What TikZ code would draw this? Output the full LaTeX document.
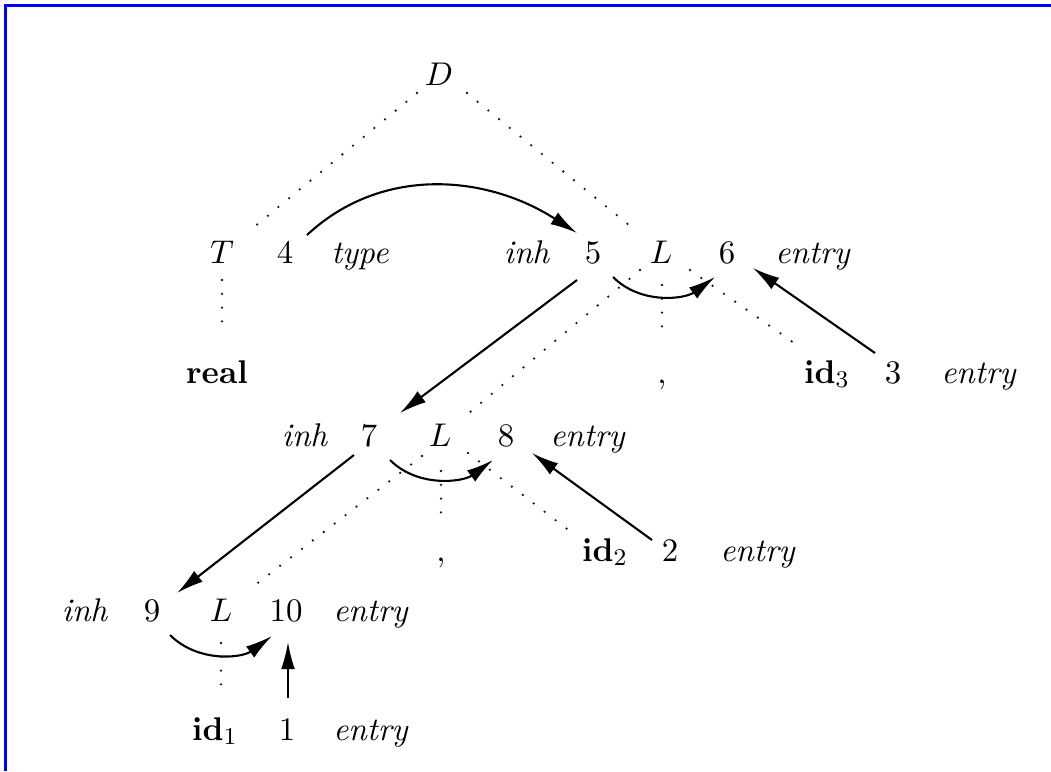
\documentclass[tikz,border=0pt]{standalone}
\usetikzlibrary{arrows.meta}
\begin{document}
\begin{tikzpicture}[x=0.33333pt,y=-0.33333pt,
  lab/.style={anchor=base, inner sep=0pt, font=\fontsize{10.95}{13.6}\selectfont},
  treeedge/.style={draw=black!90, line width=0.85pt, line cap=round, dash pattern=on 0pt off 4.6pt},
  arr/.style={line width=0.7pt, -{Latex[length=9pt,width=4.6pt]}},
  frame/.style={draw={rgb,255:red,0;green,0;blue,255}, line width=0.87pt}]
\useasboundingbox (0,0) rectangle (1051,771);
\coordinate (fTL) at (5.5,5.5);
\coordinate (fTR) at (1051,5.5);
\coordinate (fBL) at (5.5,771);
\draw[frame] (fBL) -- (fTL) -- (fTR);
% nodes
\node[lab] (D) at (439,85) {$D$};
\node[lab] (T) at (222,263) {$T$};
\node[lab] (n4) at (285,263) {4};
\node[lab] (type) at (360,263) {\textit{type}};
\node[lab] (inhA) at (527,263) {\textit{inh}};
\node[lab] (n5) at (593,263) {5};
\node[lab] (L1) at (661,263) {$L$};
\node[lab] (n6) at (727,263) {6};
\node[lab] (e6) at (813,263) {\textit{entry}};
\node[lab] (real) at (217,383) {\textbf{real}};
\node[lab] (cm1) at (662,383) {,};
\node[lab] (id3) at (827,383) {$\mathbf{id}_3$};
\node[lab] (n3) at (893,383) {3};
\node[lab] (e3) at (979,383) {\textit{entry}};
\node[lab] (inhB) at (305,446) {\textit{inh}};
\node[lab] (n7) at (369,446) {7};
\node[lab] (L3) at (440,446) {$L$};
\node[lab] (n8) at (506,446) {8};
\node[lab] (e8) at (588,446) {\textit{entry}};
\node[lab] (cm2) at (441,561) {,};
\node[lab] (id2) at (605,561) {$\mathbf{id}_2$};
\node[lab] (n2) at (670,561) {2};
\node[lab] (e2) at (758,561) {\textit{entry}};
\node[lab] (inhC) at (85,621) {\textit{inh}};
\node[lab] (n9) at (152,621) {9};
\node[lab] (L5) at (221,621) {$L$};
\node[lab] (n10) at (286,621) {10};
\node[lab] (e10) at (371,621) {\textit{entry}};
\node[lab] (id1) at (215,740) {$\mathbf{id}_1$};
\node[lab] (n1) at (287,740) {1};
\node[lab] (e1) at (371,740) {\textit{entry}};
% parse tree (dotted)
\draw[treeedge] ([shift={(-22,8)}]D.base) -- ([shift={(26,-31)}]T.base);
\draw[treeedge] ([shift={(28,8)}]D.base) -- ([shift={(-26,-33)}]L1.base);
\draw[treeedge] ([shift={(0,17)}]T.base) -- ([shift={(5,-48)}]real.base);
\draw[treeedge] ([shift={(-21,7)}]L1.base) -- ([shift={(30,-34)}]L3.base);
\draw[treeedge] ([shift={(1,22)}]L1.base) -- ([shift={(0,-50)}]cm1.base);
\draw[treeedge] ([shift={(29,7)}]L1.base) -- ([shift={(-30,-38)}]id3.base);
\draw[treeedge] ([shift={(-18,10)}]L3.base) -- ([shift={(29,-32)}]L5.base);
\draw[treeedge] ([shift={(1,25)}]L3.base) -- ([shift={(0,-38)}]cm2.base);
\draw[treeedge] ([shift={(28,7)}]L3.base) -- ([shift={(-30,-26)}]id2.base);
\draw[treeedge] ([shift={(0,22)}]L5.base) -- ([shift={(6,-45)}]id1.base);
% dependency arrows
\draw[arr] ([shift={(22,-28)}]n4.base) .. controls +(75,-70) and +(-90,-58) .. ([shift={(-16,-30)}]n5.base);
\draw[arr] ([shift={(-16,17)}]n5.base) -- ([shift={(31,-33)}]n7.base);
\draw[arr] ([shift={(20,14)}]n5.base) .. controls +(28,28) and +(-30,22) .. ([shift={(-12,14)}]n6.base);
\draw[arr] ([shift={(-18,-30)}]n3.base) -- ([shift={(26,5)}]n6.base);
\draw[arr] ([shift={(-15,9)}]n7.base) -- ([shift={(25,-28)}]n9.base);
\draw[arr] ([shift={(21,14)}]n7.base) .. controls +(28,28) and +(-30,22) .. ([shift={(-13,14)}]n8.base);
\draw[arr] ([shift={(-18,-21)}]n2.base) -- ([shift={(26,7)}]n8.base);
\draw[arr] ([shift={(18,14)}]n9.base) .. controls +(28,28) and +(-30,22) .. ([shift={(-14,15)}]n10.base);
\draw[arr] ([shift={(1,-42)}]n1.base) -- ([shift={(2,21)}]n10.base);
\end{tikzpicture}
\end{document}
